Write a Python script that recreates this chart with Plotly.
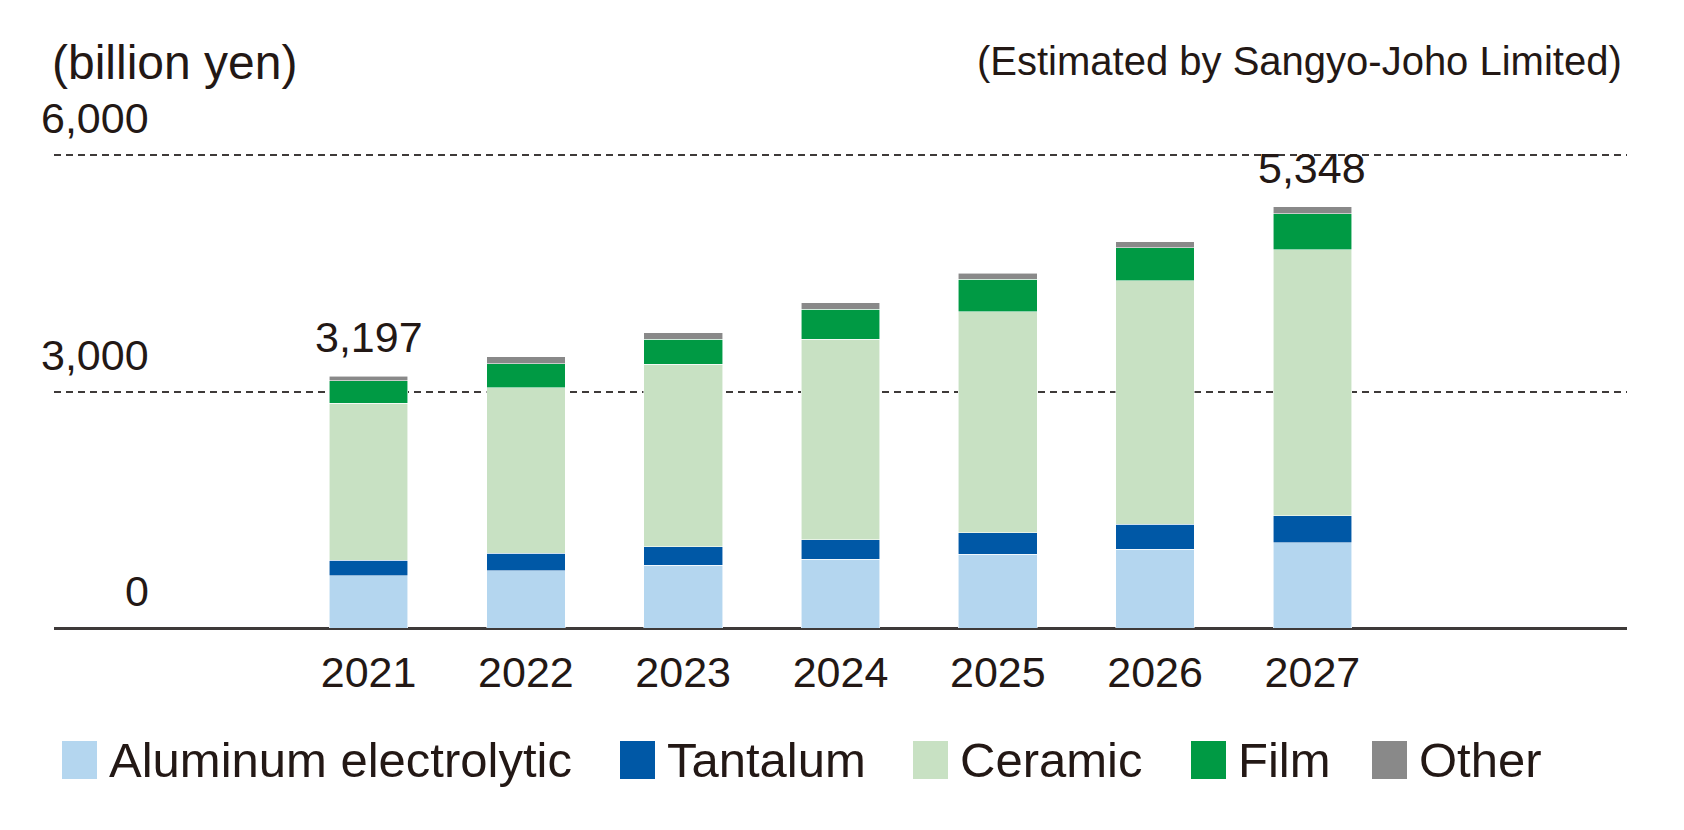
import plotly.graph_objects as go

# ---- data (billion yen) ----
years = ["2021", "2022", "2023", "2024", "2025", "2026", "2027"]
aluminum = [661, 724, 797, 873, 937, 1000, 1085]
tantalum = [196, 222, 233, 250, 275, 318, 339]
ceramic = [1995, 2104, 2318, 2546, 2804, 3089, 3377]
film = [284, 302, 318, 378, 412, 423, 457]
other = [61, 92, 80, 84, 76, 76, 90]
series_names = ["Aluminum electrolytic", "Tantalum", "Ceramic", "Film", "Other"]
total_labels = {"2021": "3,197", "2027": "5,348"}
y_ticks = [0, 3000, 6000]
y_tick_text = ["0", "3,000", "6,000"]

colors = ["#b4d6ef", "#0058a6", "#c8e1c3", "#009a44", "#898989"]
TXT = "#231815"
NUM_FONT = "Liberation Sans, Arial, sans-serif"
TXT_FONT = "Liberation Sans, Arial, sans-serif"
NUM_SIZE = 43

W, H = 1684, 830
ML, MR, MT, MB = 54, 57, 116, 202
PW, PH = W - ML - MR, H - MT - MB


def px_x(px):
    return (px - ML) / PW


def px_y(py):
    return (H - MB - py) / PH


fig = go.Figure()
for name, vals, col in zip(series_names, [aluminum, tantalum, ceramic, film, other], colors):
    fig.add_trace(go.Bar(
        x=years, y=vals, name=name,
        marker=dict(color=col, line=dict(color="rgba(255,255,255,0.7)", width=0.8)),
        showlegend=False,
    ))

totals = [a + b + c + d + e for a, b, c, d, e in zip(aluminum, tantalum, ceramic, film, other)]

annotations = []
# total labels
for yr, lab in total_labels.items():
    i = years.index(yr)
    annotations.append(dict(
        x=i, y=totals[i], xref="x", yref="y", text=lab, showarrow=False,
        yanchor="bottom", yshift=13, font=dict(family=NUM_FONT, size=NUM_SIZE, color=TXT),
    ))

# y tick labels above the gridlines
for v, t in zip(y_ticks, y_tick_text):
    annotations.append(dict(
        x=px_x(151), xref="paper", y=v, yref="y", text=t, showarrow=False,
        xanchor="right", yanchor="bottom", yshift=11,
        font=dict(family=NUM_FONT, size=NUM_SIZE, color=TXT),
    ))

# headers
annotations.append(dict(
    x=px_x(50), xref="paper", y=px_y(62), yref="paper", text="(billion yen)",
    showarrow=False, xanchor="left", yanchor="middle",
    font=dict(family=TXT_FONT, size=48, color=TXT),
))
annotations.append(dict(
    x=px_x(1624), xref="paper", y=px_y(61), yref="paper",
    text="(Estimated by Sangyo-Joho Limited)",
    showarrow=False, xanchor="right", yanchor="middle",
    font=dict(family=TXT_FONT, size=40, color=TXT),
))

# custom legend
shapes = []
sq_left = [62, 620, 913, 1191, 1372]
leg_y = px_y(760)
for name, col, xl in zip(series_names, colors, sq_left):
    shapes.append(dict(
        type="rect", xref="paper", yref="paper",
        xsizemode="pixel", ysizemode="pixel",
        xanchor=px_x(xl), yanchor=leg_y,
        x0=0, x1=35, y0=-19, y1=19,
        fillcolor=col, line=dict(width=0),
    ))
    annotations.append(dict(
        x=px_x(xl + 45), xref="paper", y=leg_y, yref="paper", text=name,
        showarrow=False, xanchor="left", yanchor="middle",
        font=dict(family=TXT_FONT, size=49, color=TXT),
    ))

fig.update_layout(
    width=W, height=H,
    margin=dict(l=ML, r=MR, t=MT, b=MB, pad=0),
    barmode="stack", bargap=0.5,
    plot_bgcolor="white", paper_bgcolor="white",
    annotations=annotations, shapes=shapes,
    xaxis=dict(
        type="category", range=[-2, 8], showgrid=False, zeroline=False,
        showline=False, ticks="outside", ticklen=6, tickcolor="rgba(0,0,0,0)",
        tickfont=dict(family=NUM_FONT, size=NUM_SIZE, color=TXT),
    ),
    yaxis=dict(
        range=[0, 6500], tickvals=[3000, 6000], showticklabels=False,
        showgrid=True, gridcolor="#3e3a39", gridwidth=2, griddash="7px,5px",
        zeroline=True, zerolinecolor="#3e3a39", zerolinewidth=3,
        showline=False, ticks="",
    ),
)

fig.write_html("out.html", config={"displayModeBar": False},
               post_script="document.body.style.margin='0px';")
